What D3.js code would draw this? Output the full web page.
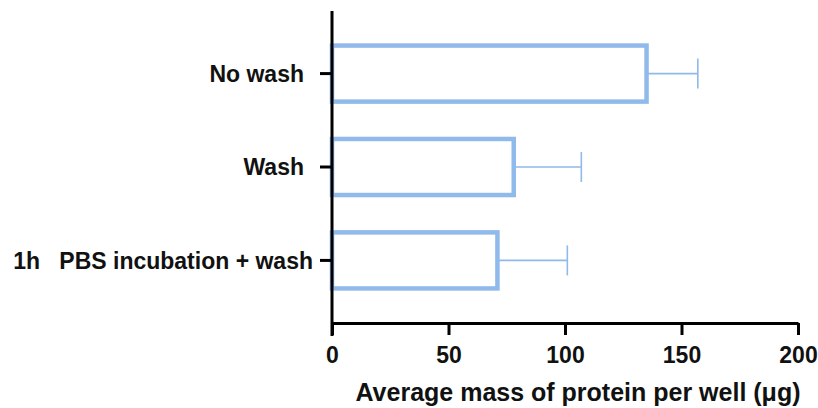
<!DOCTYPE html>
<html>
<head>
<meta charset="utf-8">
<script src="https://cdn.jsdelivr.net/npm/d3@7"></script>
<style>
  body { margin: 0; background: #fff; }
  svg text { font-family: "Liberation Sans", Arial, sans-serif; font-weight: bold; fill: #111; }
</style>
</head>
<body>
<div class="chart"></div>
<script>
// data
const categories = ["No wash", "Wash", "1h   PBS incubation + wash"];
const means = [135, 78, 71];
const errors = [22, 29, 30];
const xTicks = [0, 50, 100, 150, 200];

const width = 818;
const height = 408;
const barColor = "#90b9ec";

const svg = d3.select(".chart")
  .append("svg")
  .attr("width", width)
  .attr("height", height);

const x = d3.scaleLinear().domain([0, 200]).range([332, 798]);
const y = d3.scaleBand()
  .domain(categories)
  .range([11, 323])
  .paddingInner(0.4)
  .paddingOuter(0.37);

const rows = categories.map((c, i) => ({cat: c, mean: means[i], err: errors[i]}));

// error bars (drawn first so bar outline sits on top)
const eb = svg.append("g").attr("class", "errors")
  .attr("stroke", barColor)
  .attr("stroke-width", 1.6);

eb.selectAll("line.whisker")
  .data(rows)
  .join("line")
  .attr("class", "whisker")
  .attr("x1", d => x(d.mean))
  .attr("x2", d => x(d.mean + d.err))
  .attr("y1", d => y(d.cat) + y.bandwidth() / 2)
  .attr("y2", d => y(d.cat) + y.bandwidth() / 2);

eb.selectAll("line.cap")
  .data(rows)
  .join("line")
  .attr("class", "cap")
  .attr("x1", d => x(d.mean + d.err))
  .attr("x2", d => x(d.mean + d.err))
  .attr("y1", d => y(d.cat) + y.bandwidth() / 2 - 15)
  .attr("y2", d => y(d.cat) + y.bandwidth() / 2 + 15);

// bars: open rectangles
svg.append("g").attr("class", "bars")
  .selectAll("rect")
  .data(rows)
  .join("rect")
  .attr("x", x(0))
  .attr("y", d => y(d.cat))
  .attr("width", d => x(d.mean) - x(0))
  .attr("height", y.bandwidth())
  .attr("fill", "none")
  .attr("stroke", barColor)
  .attr("stroke-width", 4.5);

// axes
const xAxis = svg.append("g")
  .attr("transform", `translate(0,323)`)
  .call(d3.axisBottom(x).tickValues(xTicks).tickSize(12).tickSizeOuter(0).tickPadding(8));

const yAxis = svg.append("g")
  .attr("transform", `translate(332,0)`)
  .call(d3.axisLeft(y).tickSize(12).tickSizeOuter(0).tickPadding(16));

[xAxis, yAxis].forEach(g => {
  g.select(".domain").attr("stroke", "#000").attr("stroke-width", 3);
  g.selectAll(".tick line").attr("stroke", "#000").attr("stroke-width", 3);
  g.selectAll("text").attr("font-size", 23).attr("fill", "#111")
    .attr("font-family", "Liberation Sans, Arial, sans-serif");
});

// y domain line runs down to the end of the 0 tick
yAxis.select(".domain").attr("d", "M0,11V336");
xAxis.selectAll(".tick text").attr("dy", "0.85em");
yAxis.selectAll(".tick text")
  .style("white-space", "pre")
  .attr("dy", "0.36em");
yAxis.selectAll(".tick text")
  .filter(d => d === categories[2])
  .attr("x", -19);

// axis title
svg.append("text")
  .attr("x", 578)
  .attr("y", 401)
  .attr("text-anchor", "middle")
  .attr("font-size", 25)
  .text("Average mass of protein per well (μg)");
</script>
</body>
</html>
